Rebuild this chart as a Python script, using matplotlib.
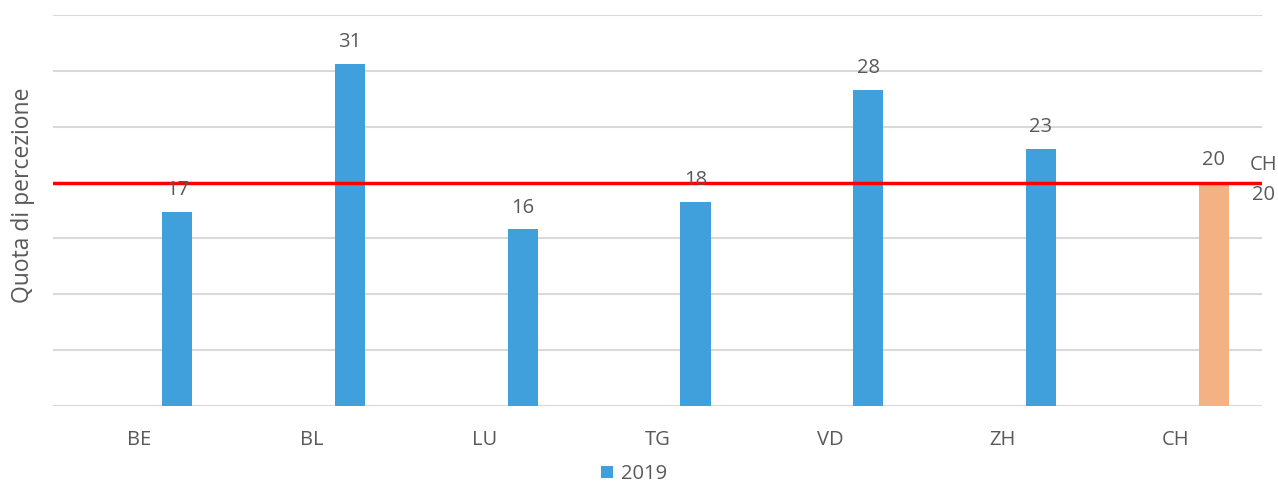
import matplotlib
matplotlib.use("Agg")
import matplotlib.pyplot as plt
import numpy as np

categories = ["BE", "BL", "LU", "TG", "VD", "ZH", "CH"]
values = [17.4, 30.6, 15.8, 18.3, 28.3, 23.0, 20.05]
labels = ["17", "31", "16", "18", "28", "23", "20"]
series_name = "2019"
ch_ref = 20
ch_ref_name = "CH"
ch_ref_value = "20"

plt.rcParams['font.family'] = ['Open Sans', 'DejaVu Sans']

fig = plt.figure(figsize=(12.78, 4.83), dpi=100)
ax = fig.add_axes([53/1278, 77/483, (1262-53)/1278, (406-15)/483])

blue = "#40A0DC"
orange = "#F4B183"
gray = "#595959"
colors = [blue] * (len(categories) - 1) + [orange]

x = np.arange(len(categories))
offset = 0.22
width = 0.175
bars = ax.bar(x + offset, values, width=width, color=colors, zorder=2, label=series_name)

for xi, v, lab in zip(x, values, labels):
    ax.annotate(lab, (xi + offset, v), xytext=(0, 12), textcoords="offset points",
                ha="center", va="baseline", fontsize=14.5, color=gray, zorder=4)

ax.set_xlim(-0.5, len(categories) - 0.5)
ax.set_ylim(0, 35)
ax.set_yticks(np.arange(0, 36, 5))
ax.yaxis.grid(True, color="#D9D9D9", linewidth=1.5, zorder=0)
ax.set_axisbelow(True)
ax.tick_params(axis="y", left=False, labelleft=False)
ax.set_xticks(x)
ax.set_xticklabels(categories, fontsize=14.5, color=gray)
ax.tick_params(axis="x", length=0, pad=17)
for s in ax.spines.values():
    s.set_visible(False)

ax.axhline(ch_ref, color="#FF0000", linewidth=2.5, zorder=3)
tr = ax.get_yaxis_transform()
ax.annotate(ch_ref_name, (0.990, ch_ref), xycoords=tr, xytext=(0, 13), textcoords="offset points",
            ha="left", va="center", fontsize=14.5, color=gray, annotation_clip=False)
ax.annotate(ch_ref_value, (0.992, ch_ref), xycoords=tr, xytext=(0, -9), textcoords="offset points",
            ha="left", va="center", fontsize=14.5, color=gray, annotation_clip=False)

ax.set_ylabel("Quota di percezione", fontsize=16.5, color=gray)
ax.yaxis.set_label_coords(-0.015, 0.54)

handles = [bars[0]]
fig.legend(handles, [series_name], loc="center", bbox_to_anchor=(0.496, (483-474)/483),
           frameon=False, fontsize=14.5, handlelength=0.6, handleheight=0.6,
           handletextpad=0.4, labelcolor=gray)

fig.savefig("out.png", dpi=100)
